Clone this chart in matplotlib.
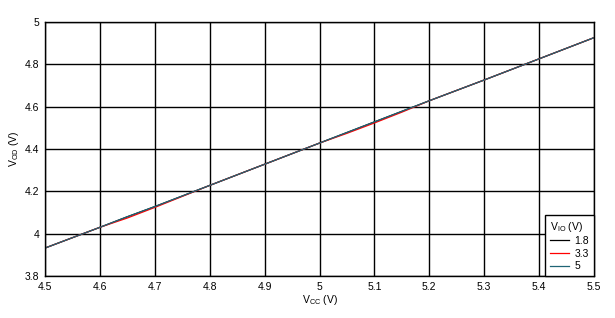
import matplotlib
matplotlib.use('Agg')
import matplotlib.pyplot as plt

plt.rcParams['font.family'] = ['Liberation Sans', 'DejaVu Sans']

# supply voltage (V)
vcc = [4.5, 4.6, 4.65, 4.7, 4.8, 4.9, 5.0, 5.05, 5.1, 5.15, 5.2, 5.3, 5.4, 5.5]

# output differential voltage (V) for each V_IO
vod_18 = [3.932, 4.030, 4.080, 4.128, 4.228, 4.328, 4.428, 4.478, 4.528, 4.578, 4.628, 4.726, 4.826, 4.926]
vod_33 = [3.932, 4.030, 4.074, 4.124, 4.228, 4.328, 4.428, 4.474, 4.523, 4.574, 4.628, 4.726, 4.826, 4.926]
vod_5 = [3.932, 4.030, 4.080, 4.128, 4.228, 4.328, 4.428, 4.478, 4.528, 4.578, 4.628, 4.726, 4.826, 4.926]

series = [('1.8', vod_18, 'black'), ('3.3', vod_33, 'red'), ('5', vod_5, '#1f6475')]

fig = plt.figure(figsize=(6.15, 3.18), dpi=100)
ax = fig.add_axes([45 / 615, 42 / 318, 549 / 615, 254 / 318])

for lab, v, c in series:
    ax.plot(vcc, v, color=c, lw=0.9, label=lab)

ax.set_xlim(4.5, 5.5)
ax.set_ylim(3.8, 5.0)
ax.set_xticks([4.5 + 0.1 * i for i in range(11)])
ax.set_xticklabels(['4.5', '4.6', '4.7', '4.8', '4.9', '5', '5.1', '5.2', '5.3', '5.4', '5.5'])
ax.set_yticks([3.8, 4.0, 4.2, 4.4, 4.6, 4.8, 5.0])
ax.set_yticklabels(['3.8', '4', '4.2', '4.4', '4.6', '4.8', '5'])
ax.grid(True, color='black', lw=1)
ax.tick_params(length=0, labelsize=7.5, pad=4)
for s in ax.spines.values():
    s.set_linewidth(1)

ax.set_xlabel('V$_{\\mathregular{CC}}$ (V)', fontsize=7.5, labelpad=1)
ax.set_ylabel('V$_{\\mathregular{OD}}$ (V)', fontsize=7.5, labelpad=3)

leg = ax.legend(title='V$_{\\mathregular{IO}}$ (V)', loc='lower right', fontsize=7.5,
                title_fontsize=7.5, frameon=True, fancybox=False, framealpha=1,
                edgecolor='black', borderaxespad=0, handlelength=1.9,
                handletextpad=0.5, labelspacing=0.25, borderpad=0.45)
leg.get_frame().set_linewidth(1)
leg._legend_box.align = 'left'

fig.savefig('out.png', dpi=100)
